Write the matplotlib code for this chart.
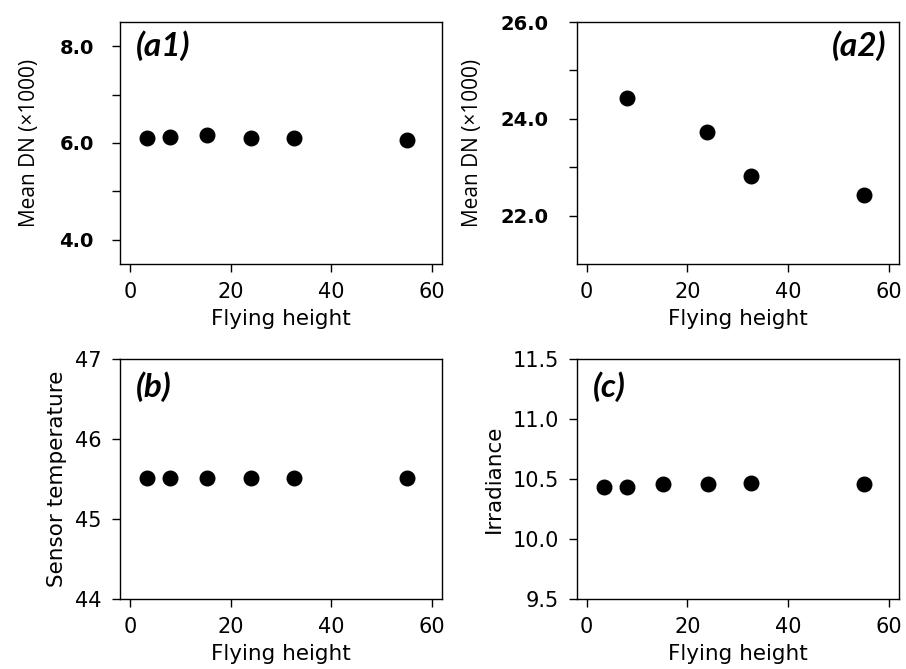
import matplotlib
matplotlib.use("Agg")
import matplotlib.pyplot as plt
import numpy as np

# Data
heights_a1 = [3.4, 8.0, 15.2, 24.0, 32.6, 55.1]
dn_a1 = [6.10, 6.13, 6.17, 6.10, 6.10, 6.06]

heights_a2 = [8.0, 23.9, 32.6, 55.1]
dn_a2 = [24.42, 23.73, 22.81, 22.42]

heights_b = [3.4, 8.0, 15.2, 24.0, 32.6, 55.1]
temp_b = [45.52, 45.52, 45.52, 45.52, 45.52, 45.52]

heights_c = [3.4, 8.0, 15.2, 24.0, 32.6, 55.1]
irr_c = [10.44, 10.44, 10.46, 10.46, 10.47, 10.46]

xticks = [0, 20, 40, 60]

fig = plt.figure(figsize=(9.06, 6.69), dpi=100)

ax_a1 = fig.add_axes([0.1325, 0.6054, 0.3554, 0.3617])
ax_a2 = fig.add_axes([0.6365, 0.6054, 0.3557, 0.3617])
ax_b = fig.add_axes([0.1325, 0.1042, 0.3554, 0.3587])
ax_c = fig.add_axes([0.6365, 0.1042, 0.3557, 0.3587])

label_font = dict(family=["Lato", "DejaVu Sans"], fontweight="bold", fontstyle="italic", fontsize=24)

def common(ax):
    ax.set_xlim(-2, 62)
    ax.set_xticks(xticks)
    ax.set_xlabel("Flying height", fontsize=15.5, labelpad=5)
    ax.tick_params(direction="out", length=6, width=1, labelsize=15, pad=7)
    for s in ax.spines.values():
        s.set_linewidth(1.0)

# a1
ax = ax_a1
ax.scatter(heights_a1, dn_a1, s=110, color="black", zorder=3)
common(ax)
ax.set_ylim(3.5, 8.5)
ax.set_yticks([4, 5, 6, 7, 8])
ax.set_yticklabels(["4.0", "", "6.0", "", "8.0"], fontweight="bold", fontsize=14)
ax.tick_params(axis="y", pad=13)
ax.set_ylabel("Mean DN (×1000)", fontsize=15, family=["Open Sans", "DejaVu Sans"], labelpad=14)
ax.text(0.05, 0.965, "(a1)", transform=ax.transAxes, va="top", ha="left", **label_font)

# a2
ax = ax_a2
ax.scatter(heights_a2, dn_a2, s=110, color="black", zorder=3)
common(ax)
ax.set_ylim(21, 26)
ax.set_yticks([22, 23, 24, 25, 26])
ax.set_yticklabels(["22.0", "", "24.0", "", "26.0"], fontweight="bold", fontsize=14)
ax.tick_params(axis="y", pad=14)
ax.set_ylabel("Mean DN (×1000)", fontsize=15, family=["Open Sans", "DejaVu Sans"], labelpad=13)
ax.text(0.96, 0.965, "(a2)", transform=ax.transAxes, va="top", ha="right", **label_font)

# b
ax = ax_b
ax.scatter(heights_b, temp_b, s=110, color="black", zorder=3)
common(ax)
ax.set_ylim(44, 47)
ax.set_yticks([44, 45, 46, 47])
ax.set_ylabel("Sensor temperature", fontsize=15.5, labelpad=6)
ax.text(0.05, 0.95, "(b)", transform=ax.transAxes, va="top", ha="left", **label_font)

# c
ax = ax_c
ax.scatter(heights_c, irr_c, s=110, color="black", zorder=3)
common(ax)
ax.set_ylim(9.5, 11.5)
ax.set_yticks([9.5, 10.0, 10.5, 11.0, 11.5])
ax.set_ylabel("Irradiance", fontsize=15.5, labelpad=6)
ax.text(0.05, 0.95, "(c)", transform=ax.transAxes, va="top", ha="left", **label_font)

fig.savefig("out.png", dpi=100)
